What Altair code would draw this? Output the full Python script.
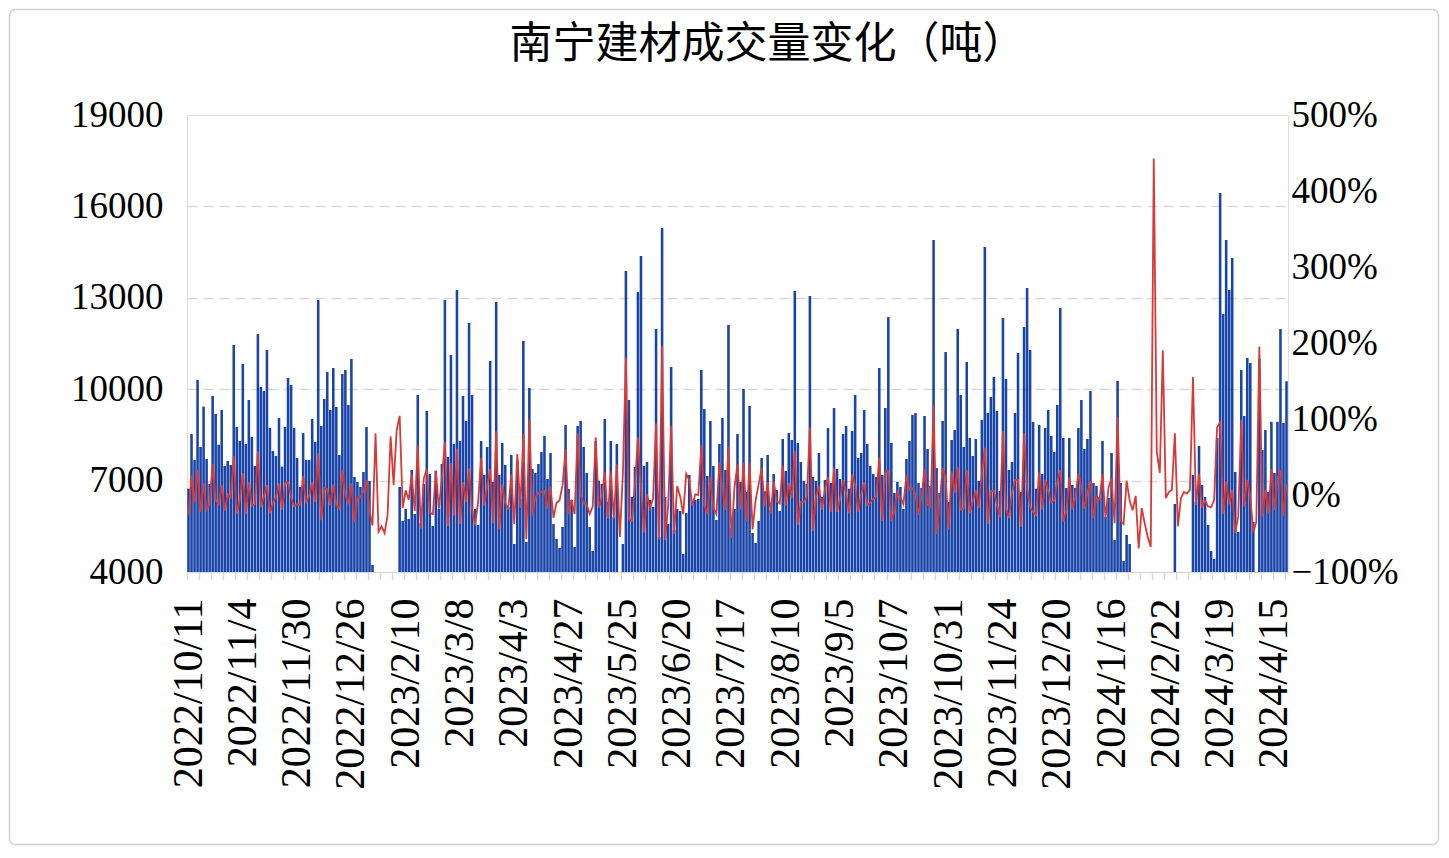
import altair as alt
import pandas as pd

title_text = "南宁建材成交量变化（吨）"

labels = ['2022/10/11', '2022/11/4', '2022/11/30', '2022/12/26', '2023/2/10', '2023/3/8',
          '2023/4/3', '2023/4/27', '2023/5/25', '2023/6/20', '2023/7/17', '2023/8/10',
          '2023/9/5', '2023/10/7', '2023/10/31', '2023/11/24', '2023/12/20', '2024/1/16',
          '2024/2/22', '2024/3/19', '2024/4/15']

volume = [
    6735, 8529, 7676, 10301, 8103, 9426, 7709, 6888, 9776, 9186,
    8179, 9317, 7479, 7643, 7512, 11450, 8759, 8299, 10827, 8201,
    9645, 8431, 7479, 11811, 10072, 9940, 11286, 8726, 7971, 7807,
    9054, 7457, 8759, 10367, 10137, 8726, 7741, 6790, 8562, 7676,
    7676, 9021, 8267, 12927, 8792, 9678, 10564, 9317, 10695, 9415,
    7840, 10498, 10630, 9481, 10991, 7118, 6954, 6790, 7282, 8759,
    6987, 4230, 3500, 1900, 1150, 600, 450, 800, 900, 1700,
    6790, 5674, 6068, 5739, 7348, 5904, 9809, 5600, 6888, 9284,
    7216, 5510, 7326, 6068, 7545, 12927, 7774, 11122, 8201, 13255,
    8299, 9776, 8956, 12172, 9809, 6068, 5543, 8299, 7184, 8103,
    10925, 6954, 12861, 7184, 8234, 7512, 6133, 7840, 4919, 7643,
    6396, 11581, 4985, 10039, 7380, 7249, 7545, 7938, 8464, 7052,
    7906, 5575, 5083, 4788, 5477, 8825, 6724, 6363, 4821, 8792,
    8956, 8103, 7249, 5477, 4689, 8300, 7000, 6888, 9021, 6300,
    8299, 5800, 8201, 3800, 4919, 13879, 9645, 6462, 7446, 13190,
    14371, 7479, 7610, 6363, 6133, 11975, 5149, 15290, 6462, 5575,
    10728, 5378, 6068, 6002, 4591, 5936, 7184, 6265, 6363, 6400,
    10630, 9350, 7151, 8956, 7479, 5707, 8201, 9054, 7348, 12107,
    5450, 6068, 8529, 6954, 10006, 6626, 9448, 5280, 4952, 5674,
    7741, 6650, 7840, 6040, 7216, 6691, 6002, 8365, 7315, 8562,
    8332, 13222, 8234, 7610, 6987, 6888, 13058, 7118, 6987, 7906,
    6462, 7019, 8726, 6921, 9382, 7380, 7052, 8529, 8792, 6735,
    8628, 9809, 7741, 7906, 9317, 8201, 7479, 7216, 7118, 10695,
    7184, 9382, 12369, 8234, 6593, 6954, 6790, 6068, 7709, 8299,
    9153, 9218, 6921, 6757, 9120, 8037, 6823, 14896, 7413, 6593,
    8956, 11220, 6297, 8332, 8660, 11975, 9809, 8103, 10892, 8398,
    7807, 8365, 6987, 8989, 14667, 9218, 9744, 10400, 9284, 6658,
    12336, 10334, 7348, 7610, 9218, 11188, 6626, 12041, 13321, 11286,
    8923, 6735, 8825, 7216, 8726, 9317, 8464, 7938, 9481, 12665,
    8398, 6757, 8398, 6855, 6757, 8726, 9645, 8037, 8365, 9940,
    6921, 6823, 6450, 8299, 5805, 6429, 7906, 5050, 10269, 6921,
    4361, 5214, 4919, 3900, 3900, 1200, 1000, 650, 300, 100,
    540, 850, 1100, 3200, 3100, 3250, 3450, 6232, 3700, 3600,
    3780, 3900, 3950, 7184, 6297, 8135, 6855, 6462, 5543, 4689,
    4427, 8398, 16439, 12468, 14896, 13255, 14305, 7282, 5313, 10630,
    9120, 11023, 10859, 5641, 3700, 11000, 8000, 8660, 6626, 8930,
    7250, 8930, 11975, 8890, 10260,
]

change_pct = [
    -25, 27, -10, 34, -21, 16, -18, -11, 42, -6,
    -11, 14, -20, 2, -2, 52, -24, -5, 30, -24,
    18, -13, -11, 58, -15, -1, 14, -23, -9, -2,
    16, -18, 17, 18, -2, -14, -11, -12, 26, -10,
    0, 18, -8, 56, -32, 10, 9, -12, 15, -12,
    -17, 34, 1, -11, 16, -35, -2, -2, 7, 20,
    -20, -39, 82, -47, -40, -49, -25, 78, 14, 86,
    105, -16, 7, -5, 28, -20, 66, -43, 23, 35,
    -22, -24, 33, -17, 24, 71, -40, 43, -26, 62,
    -37, 18, -8, 36, -19, -38, -9, 50, -13, 13,
    35, -36, 85, -44, 15, -9, -18, 28, -37, 55,
    -16, 81, -57, 101, -26, -2, 4, 5, 7, -17,
    12, -29, -9, -6, 14, 61, -24, -5, -24, 82,
    2, -10, -11, -24, -14, 77, -16, -2, 31, -30,
    32, -30, 41, -54, 29, 182, -31, -33, 15, 77,
    9, -48, 2, -16, -4, 95, -57, 197, -58, -14,
    92, -50, 13, -1, -24, 29, 21, -13, 2, 1,
    66, -12, -24, 25, -16, -24, 44, 10, -19, 65,
    -55, 11, 41, -18, 44, -34, 43, -44, -6, 15,
    36, -14, 18, -23, 19, -7, -10, 39, -13, 17,
    -3, 59, -38, -8, -8, -1, 90, -46, -2, 13,
    -18, 9, 24, -21, 36, -21, -4, 21, 3, -23,
    28, 14, -21, 2, 18, -12, -9, -4, -1, 50,
    -33, 31, 32, -33, -20, 5, -2, -11, 27, 8,
    10, 1, -25, -2, 35, -12, -15, 118, -50, -11,
    36, 25, -44, 32, 4, 38, -18, -17, 34, -23,
    -7, 7, -16, 29, 63, -37, 6, 7, -11, -28,
    85, -16, -29, 4, 21, 21, -41, 82, 11, -15,
    -21, -25, 31, -18, 21, 7, -9, -6, 19, 34,
    -34, -20, 24, -18, -1, 29, 11, -17, 4, 19,
    -30, -1, -5, 29, -30, 11, 23, -36, 103, -33,
    -37, 20, -6, -19, 0, -69, -16, -36, -54, -67,
    443, 58, 30, 191, -3, 5, 8, 82, -40, -3,
    5, 3, 8, 156, -12, 29, -16, -6, -14, -15,
    -6, 90, 96, -24, 19, -11, 8, -49, -27, 100,
    -14, 21, -1, -48, -34, 196, -27, 8, -23, 35,
    -19, 23, 34, -26, 15,
]

left_ticks = [4000, 7000, 10000, 13000, 16000, 19000]
right_ticks = [-100, 0, 100, 200, 300, 400, 500]

n = len(volume)
df = pd.DataFrame({"i": list(range(n)), "v": volume, "p": change_pct})

NUM_FONT = "Liberation Serif"
W, H = 1101, 457
PAD = {"left": 179, "top": 107, "right": 152, "bottom": 274}

x_scale = alt.Scale(paddingInner=0.15, paddingOuter=0.075)
label_expr = "[" + ",".join("'" + s + "'" for s in labels) + "][round(datum.value / 18)]"

bars = alt.Chart(df).mark_bar(color="#1944A8", clip=True).encode(
    x=alt.X("i:O", scale=x_scale, sort="ascending",
            axis=alt.Axis(orient="bottom", values=list(range(0, n, 4)), bandPosition=0,
                          labels=False, ticks=True, tickSize=8, tickColor="#D9D9D9",
                          tickWidth=1.5, domain=True, domainColor="#D9D9D9", domainWidth=1.5,
                          grid=False, title=None)),
    y=alt.Y("v:Q", scale=alt.Scale(domain=[4000, 19000], nice=False, zero=False),
            axis=alt.Axis(values=left_ticks, format="d", grid=True, gridDash=[10, 6],
                          gridColor="#D9D9D9", gridWidth=1.5,
                          gridOpacity=alt.condition("datum.value == 4000 || datum.value == 19000",
                                                    alt.value(0), alt.value(1)),
                          domain=False, ticks=False, labelFont=NUM_FONT, labelFontSize=37,
                          labelColor="#000000", labelPadding=24, title=None)),
    y2=alt.datum(4000),
)

line = alt.Chart(df).mark_line(color="#D83A38", strokeWidth=1.8, clip=True).encode(
    x=alt.X("i:O", scale=x_scale, sort="ascending",
            axis=alt.Axis(orient="bottom", values=list(range(0, n, 18)), labelExpr=label_expr,
                          labelAngle=270, labelAlign="right", labelBaseline="middle",
                          labelFont=NUM_FONT, labelFontSize=42, labelColor="#000000",
                          labelPadding=26, labelOverlap=False, labelLimit=0, ticks=False,
                          domain=False, grid=False, title=None)),
    y=alt.Y("p:Q", scale=alt.Scale(domain=[-100, 500], nice=False, zero=False),
            axis=alt.Axis(orient="right", values=right_ticks,
                          labelExpr="(datum.value < 0 ? '−' : '') + abs(datum.value) + '%'",
                          grid=False, domain=False, ticks=False, labelFont=NUM_FONT,
                          labelFontSize=37, labelColor="#000000", labelPadding=3, title=None)),
)

frame = alt.Chart(pd.DataFrame({"a": [0]})).mark_rect(
    fillOpacity=0, stroke="#D0D0D0", strokeWidth=1.5, cornerRadius=6, clip=False
).encode(
    x=alt.value(-PAD["left"] + 1.5), x2=alt.value(W + PAD["right"] - 1.5),
    y=alt.value(-PAD["top"] + 1.5), y2=alt.value(H + PAD["bottom"] - 1.5),
)

chart = alt.layer(bars, line, frame).resolve_scale(y="independent").resolve_axis(
    x="independent"
).properties(
    width=W, height=H, padding=PAD, autosize=alt.AutoSizeParams(type="none"),
    title=alt.TitleParams(title_text, font="Noto Sans CJK SC", fontSize=43,
                          fontWeight="normal", color="#000000", anchor="middle",
                          frame="group", offset=-58, dx=30),
).configure_view(stroke="#DCE3EE", strokeWidth=1).configure(background="white")

chart.save("out.html", embed_options={"renderer": "svg", "actions": False})
